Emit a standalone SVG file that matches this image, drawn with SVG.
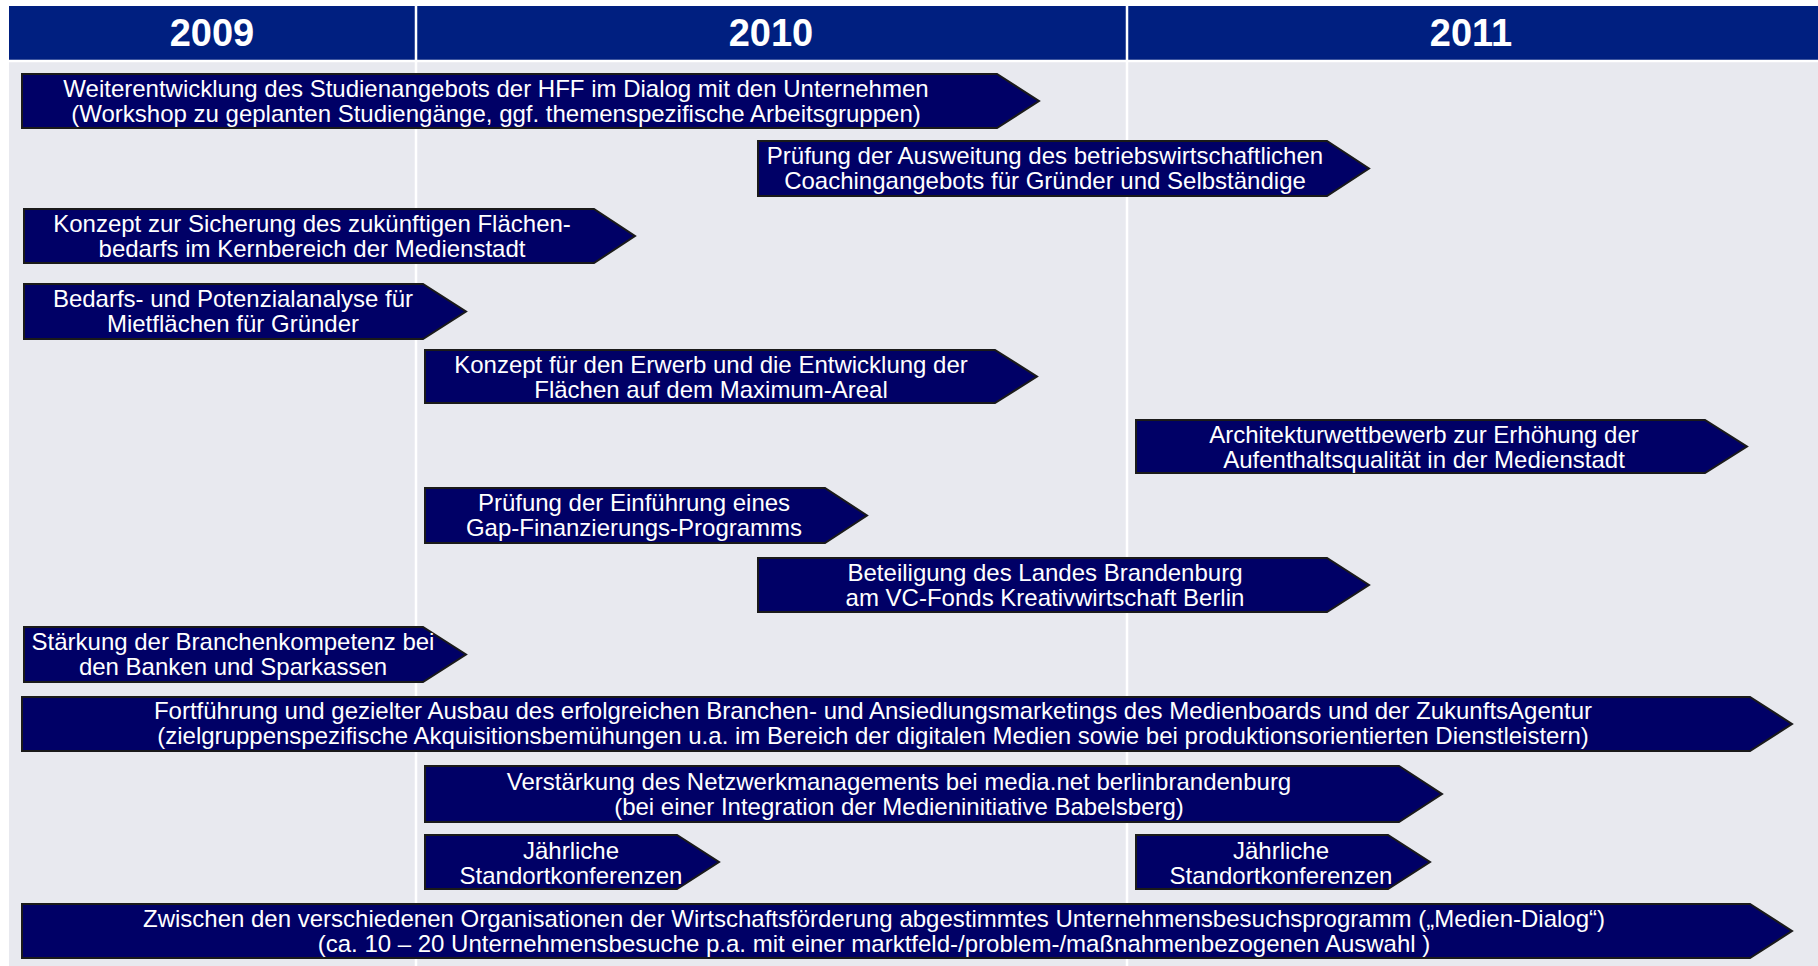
<svg xmlns="http://www.w3.org/2000/svg" width="1818" height="966" viewBox="0 0 1818 966">
<style>
.hdr{fill:#001F80}
.body{fill:#E8E9EF}
.sep{stroke:#FFFFFF;stroke-width:2.5}
.yr{font-family:"Liberation Sans",Arial,sans-serif;font-weight:bold;font-size:38px;fill:#FFFFFF;text-anchor:middle}
.bar{fill:#000066;stroke:#1A1A1A;stroke-width:2}
.t{font-family:"Liberation Sans",Arial,sans-serif;font-size:24px;fill:#FFFFFF;text-anchor:middle}
</style>
<rect x="0" y="0" width="1818" height="966" fill="#FFFFFF"/>
<g id="header">
<rect class="hdr" x="9" y="6" width="1809" height="54"/>
<rect class="body" x="9" y="62" width="1809" height="904"/>
<line class="sep" x1="416" y1="6" x2="416" y2="966"/>
<line class="sep" x1="1127" y1="6" x2="1127" y2="966"/>
<line class="sep" x1="9" y1="61" x2="1818" y2="61"/>
<text class="yr" x="212" y="46">2009</text>
<text class="yr" x="771" y="46">2010</text>
<text class="yr" x="1471" y="46">2011</text>
</g>
<g id="connectors"></g>
<g id="n1"><polygon class="bar" points="22,74 997,74 1039,101 997,128 22,128"/>
<text class="t" x="496" y="97">Weiterentwicklung des Studienangebots der HFF im Dialog mit den Unternehmen</text>
<text class="t" x="496" y="122">(Workshop zu geplanten Studiengänge, ggf. themenspezifische Arbeitsgruppen)</text></g>
<g id="n2"><polygon class="bar" points="758,141 1327,141 1369,168.5 1327,196 758,196"/>
<text class="t" x="1045" y="164">Prüfung der Ausweitung des betriebswirtschaftlichen</text>
<text class="t" x="1045" y="189">Coachingangebots für Gründer und Selbständige</text></g>
<g id="n3"><polygon class="bar" points="24,209 594,209 635,236 594,263 24,263"/>
<text class="t" x="312" y="232">Konzept zur Sicherung des zukünftigen Flächen-</text>
<text class="t" x="312" y="257">bedarfs im Kernbereich der Medienstadt</text></g>
<g id="n4"><polygon class="bar" points="24,284 423,284 466,311.5 423,339 24,339"/>
<text class="t" x="233" y="307">Bedarfs- und Potenzialanalyse für</text>
<text class="t" x="233" y="332">Mietflächen für Gründer</text></g>
<g id="n5"><polygon class="bar" points="425,350 995,350 1037,376.5 995,403 425,403"/>
<text class="t" x="711" y="373">Konzept für den Erwerb und die Entwicklung der</text>
<text class="t" x="711" y="398">Flächen auf dem Maximum-Areal</text></g>
<g id="n6"><polygon class="bar" points="1136,420 1705,420 1747,446.5 1705,473 1136,473"/>
<text class="t" x="1424" y="443">Architekturwettbewerb zur Erhöhung der</text>
<text class="t" x="1424" y="468">Aufenthaltsqualität in der Medienstadt</text></g>
<g id="n7"><polygon class="bar" points="425,488 825,488 867,515.5 825,543 425,543"/>
<text class="t" x="634" y="511">Prüfung der Einführung eines</text>
<text class="t" x="634" y="536">Gap-Finanzierungs-Programms</text></g>
<g id="n8"><polygon class="bar" points="758,558 1327,558 1369,585 1327,612 758,612"/>
<text class="t" x="1045" y="581">Beteiligung des Landes Brandenburg</text>
<text class="t" x="1045" y="606">am VC-Fonds Kreativwirtschaft Berlin</text></g>
<g id="n9"><polygon class="bar" points="24,627 423,627 466,654.5 423,682 24,682"/>
<text class="t" x="233" y="650">Stärkung der Branchenkompetenz bei</text>
<text class="t" x="233" y="675">den Banken und Sparkassen</text></g>
<g id="n10"><polygon class="bar" points="22,697 1750,697 1792,724 1750,751 22,751"/>
<text class="t" x="873" y="719">Fortführung und gezielter Ausbau des erfolgreichen Branchen- und Ansiedlungsmarketings des Medienboards und der ZukunftsAgentur</text>
<text class="t" x="873" y="744">(zielgruppenspezifische Akquisitionsbemühungen u.a. im Bereich der digitalen Medien sowie bei produktionsorientierten Dienstleistern)</text></g>
<g id="n11"><polygon class="bar" points="425,766 1399,766 1442,794 1399,822 425,822"/>
<text class="t" x="899" y="790">Verstärkung des Netzwerkmanagements bei media.net berlinbrandenburg</text>
<text class="t" x="899" y="815">(bei einer Integration der Medieninitiative Babelsberg)</text></g>
<g id="n12"><polygon class="bar" points="425,835 677,835 719,862 677,889 425,889"/>
<text class="t" x="571" y="859">Jährliche</text>
<text class="t" x="571" y="884">Standortkonferenzen</text></g>
<g id="n13"><polygon class="bar" points="1136,835 1388,835 1430,862 1388,889 1136,889"/>
<text class="t" x="1281" y="859">Jährliche</text>
<text class="t" x="1281" y="884">Standortkonferenzen</text></g>
<g id="n14"><polygon class="bar" points="22,904 1750,904 1792,931 1750,958 22,958"/>
<text class="t" x="874" y="927">Zwischen den verschiedenen Organisationen der Wirtschaftsförderung abgestimmtes Unternehmensbesuchsprogramm („Medien-Dialog“)</text>
<text class="t" x="874" y="952">(ca. 10 – 20 Unternehmensbesuche p.a. mit einer marktfeld-/problem-/maßnahmenbezogenen Auswahl )</text></g>
</svg>
